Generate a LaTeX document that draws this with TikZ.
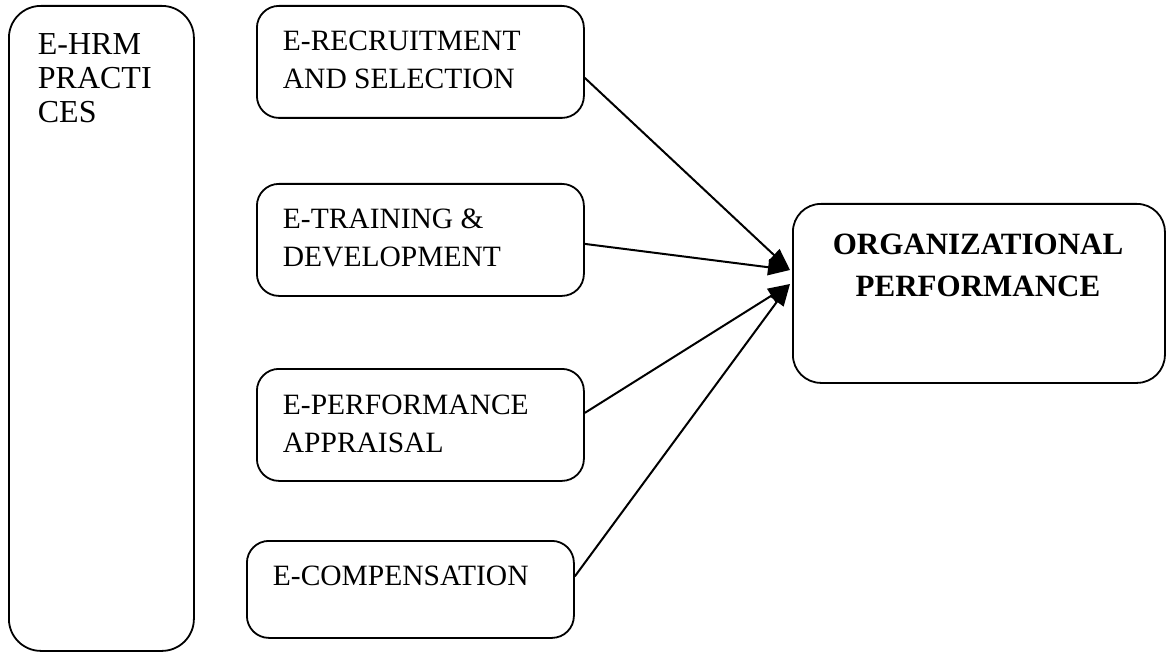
\documentclass[tikz,border=0pt]{standalone}
\usepackage{fontspec}
\setmainfont{Liberation Serif}
\usetikzlibrary{arrows.meta}
\usetikzlibrary{positioning}

\begin{document}
\begin{tikzpicture}[
    x=1pt, y=-1pt,
    line width=1.8pt
]
\tikzset{
    boxn/.style = {draw=black, rounded corners=22pt, inner sep=0pt, anchor=north west},
    txtn/.style = {anchor=north west, inner sep=0pt, align=left, font=\fontsize{29.5}{38}\selectfont},
    arr/.style = {-{Triangle[length=22pt,width=16pt]}, line width=2pt}
}
\useasboundingbox (0,0) rectangle (1166,652);
% boxes
\node[boxn, minimum width=185pt, minimum height=645pt, rounded corners=32pt] (hrm) at (8,5) {};
\node[boxn, minimum width=327pt, minimum height=112pt] (rec) at (256,5) {};
\node[boxn, minimum width=327pt, minimum height=112pt] (trn) at (256,183) {};
\node[boxn, minimum width=327pt, minimum height=112pt] (apr) at (256,368) {};
\node[boxn, minimum width=327pt, minimum height=97pt] (cmp) at (246,540) {};
\node[boxn, minimum width=372pt, minimum height=179pt, rounded corners=28pt] (org) at (792,203) {};
% texts
\node[txtn, font=\fontsize{32}{34}\selectfont] (hrmt) at (37,33) {E-HRM\\PRACTI\\CES};
\node[txtn] (rect) at (282,30) {E-RECRUITMENT\\AND SELECTION};
\node[txtn] (trnt) at (282,208) {E-TRAINING \&\\DEVELOPMENT};
\node[txtn] (aprt) at (282,394) {E-PERFORMANCE\\APPRAISAL};
\node[txtn] (cmpt) at (272,565) {E-COMPENSATION};
\node[anchor=north, inner sep=0pt, align=center, font=\fontsize{31}{42}\bfseries\selectfont] (orgt) at (978,233) {ORGANIZATIONAL\\PERFORMANCE};
% arrows
\coordinate (tipa) at (790,270);
\coordinate (tipb) at (790,284);
\draw[arr] ([yshift=-16pt]rec.east) -- (tipa);
\draw[arr] ([yshift=-4pt]trn.east) -- (tipa);
\draw[arr] ([yshift=12pt]apr.east) -- (tipb);
\draw[arr] ([yshift=13pt]cmp.east) -- (tipb);
\end{tikzpicture}
\end{document}
